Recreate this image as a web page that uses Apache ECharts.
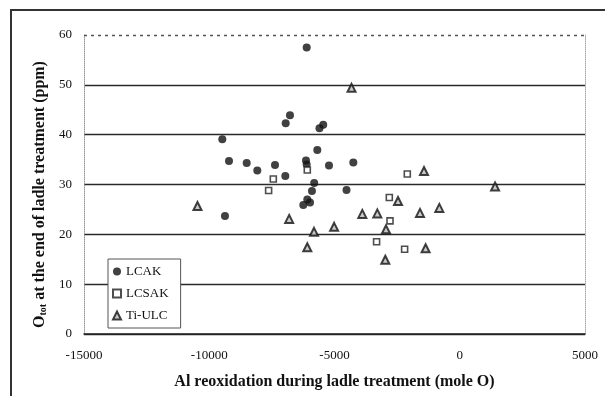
<!DOCTYPE html>
<html>
<head>
<meta charset="utf-8">
<script src="https://cdn.jsdelivr.net/npm/echarts@6/dist/echarts.min.js"></script>
<style>
  html, body { margin: 0; padding: 0; background: #fff; }
  #chart { width: 605px; height: 396px; }
</style>
</head>
<body>
<div id="chart"></div>
<script>
// tick labels
const xTicks = [-15000, -10000, -5000, 0, 5000];
const yTicks = [0, 10, 20, 30, 40, 50, 60];

// LCAK - filled circles
const lcak = [
  [-6110, 57.5], [-6777, 43.9], [-6948, 42.3], [-5450, 42.0], [-5600, 41.3],
  [-9479, 39.1], [-5686, 36.9], [-9212, 34.7], [-8505, 34.3], [-8082, 32.8],
  [-7375, 33.9], [-6138, 34.8], [-6111, 34.0], [-5220, 33.8], [-4249, 34.4],
  [-6964, 31.7], [-5810, 30.3], [-5900, 28.7], [-4520, 28.9], [-6086, 27.0],
  [-5978, 26.4], [-6245, 25.9], [-9372, 23.7]
];

// LCSAK - open squares
const lcsak = [
  [-7443, 31.1], [-7630, 28.8], [-6086, 32.9], [-2094, 32.1],
  [-2812, 27.4], [-2784, 22.7], [-3320, 18.5], [-2201, 17.0]
];

// Ti-ULC - triangles
const tiulc = [
  [-10470, 25.7], [-6810, 23.1], [-5818, 20.5], [-6086, 17.4], [-5015, 21.5],
  [-4320, 49.4], [-3890, 24.1], [-3291, 24.2], [-2944, 21.0], [-2972, 14.9],
  [-2465, 26.7], [-1587, 24.3], [-1427, 32.7], [-1363, 17.2], [-816, 25.3],
  [1410, 29.6]
];

const font = "'Liberation Serif', 'DejaVu Serif', serif";
const chart = echarts.init(document.getElementById("chart"));

// top gridline is drawn dotted separately
const gridColors = yTicks.map((v, i) => (i === yTicks.length - 1 ? "transparent" : "#2a2a2a"));

const option = {
  animation: false,
  backgroundColor: "#fff",
  textStyle: { fontFamily: font, color: "#111" },
  graphic: [
    {
      type: "rect",
      shape: { x: 11, y: 10, width: 640, height: 420 },
      style: { fill: "none", stroke: "#333", lineWidth: 2 },
      z: 0,
    },
  ],
  grid: { left: 84, right: 20, top: 35, bottom: 62 },
  legend: {
    left: 108,
    top: 259,
    orient: "vertical",
    itemGap: 9,
    itemWidth: 8,
    itemHeight: 8,
    padding: [6, 12, 6, 4],
    backgroundColor: "#fff",
    borderColor: "#555",
    borderWidth: 1,
    textStyle: { fontFamily: font, fontSize: 13, color: "#111" },
    data: ["LCAK", "LCSAK", "Ti-ULC"],
  },
  xAxis: {
    type: "value",
    min: xTicks[0],
    max: xTicks[xTicks.length - 1],
    interval: 5000,
    name: "Al reoxidation during ladle treatment (mole O)",
    nameLocation: "middle",
    nameGap: 40,
    nameTextStyle: { fontFamily: font, fontSize: 16, fontWeight: "bold", color: "#111" },
    axisLine: { show: true, onZero: false, lineStyle: { color: "#222", width: 1.5 } },
    axisTick: { show: false },
    splitLine: { show: false },
    axisLabel: {
      margin: 15,
      fontFamily: font,
      fontSize: 13,
      color: "#111",
      formatter: (v) => String(v),
    },
  },
  yAxis: [
    {
      type: "value",
      min: yTicks[0],
      max: yTicks[yTicks.length - 1],
      interval: 10,
      name: "{m|O}{s|tot}{m| at the end of ladle treatment (ppm)}",
      nameLocation: "middle",
      nameGap: 34,
      nameTextStyle: {
        padding: [0, 20, 0, 0],
        rich: {
          m: { fontFamily: font, fontSize: 16, fontWeight: "bold", color: "#111" },
          s: { fontFamily: font, fontSize: 10, fontWeight: "bold", color: "#111", padding: [6, 0, 0, 0] },
        },
      },
      axisLine: { show: true, onZero: false, lineStyle: { color: "#999", type: "dotted", width: 1 } },
      axisTick: { show: false },
      axisLabel: { margin: 12, fontFamily: font, fontSize: 13, color: "#111" },
      splitLine: { show: true, lineStyle: { color: gridColors, width: 1.3 } },
    },
    {
      type: "value",
      position: "right",
      min: yTicks[0],
      max: yTicks[yTicks.length - 1],
      interval: 10,
      axisLine: { show: true, onZero: false, lineStyle: { color: "#aaa", type: "dotted", width: 1 } },
      axisTick: { show: false },
      axisLabel: { show: false },
      splitLine: { show: false },
    },
  ],
  series: [
    {
      name: "LCAK",
      type: "scatter",
      data: lcak,
      symbol: "circle",
      symbolSize: 8,
      itemStyle: { color: "#111" },
      markLine: {
        silent: true,
        symbol: "none",
        label: { show: false },
        lineStyle: { color: "#555", type: [3, 4], width: 1.3 },
        data: [{ yAxis: yTicks[yTicks.length - 1] }],
      },
      z: 3,
    },
    {
      name: "LCSAK",
      type: "scatter",
      data: lcsak,
      symbol: "rect",
      symbolSize: 6,
      itemStyle: { color: "#fff", borderColor: "#222", borderWidth: 1.6 },
      z: 3,
    },
    {
      name: "Ti-ULC",
      type: "scatter",
      data: tiulc,
      symbol: "triangle",
      symbolSize: 8,
      itemStyle: { color: "#bbb", borderColor: "#111", borderWidth: 2 },
      z: 3,
    },
  ],
};

chart.setOption(option);
</script>
</body>
</html>
